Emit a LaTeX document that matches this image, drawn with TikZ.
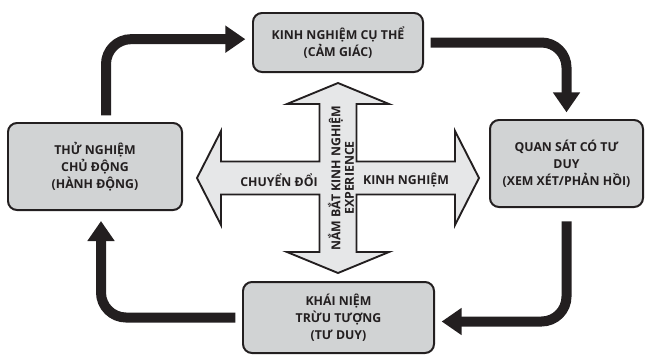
\documentclass[tikz,border=0pt]{standalone}
\usepackage{fontspec}
\setmainfont{Open Sans}
\usepackage{tikz}
\usetikzlibrary{arrows.meta,calc,positioning}
\definecolor{ink}{HTML}{231F20}
\definecolor{boxgray}{HTML}{D1D3D4}
\definecolor{crossgray}{HTML}{E6E7E8}

\begin{document}
\begin{tikzpicture}[x=0.03cm,y=-0.03cm,>={Triangle[length=0.6cm,width=0.78cm]}]
	\tikzstyle{block} = [draw=ink, fill=boxgray, line width=1.7pt, rounded corners=0.27cm, align=center, text=ink, font=\fontsize{10.5}{14.5}\selectfont\bfseries]
	\tikzstyle{flow} = [->, draw=ink, line width=0.3cm, rounded corners=0.75cm, shorten <=0.2cm, shorten >=0.2cm]
	\tikzstyle{lbl} = [text=ink, align=center, font=\fontsize{10.5}{11.5}\selectfont\bfseries]
	\useasboundingbox (0,0) rectangle (648,355);

	\node [block, minimum width=5.1cm, minimum height=1.77cm] at (338,42.5) (concrete) {KINH NGHIỆM CỤ THỂ\\(CẢM GIÁC)};
	\node [block, minimum width=4.59cm, minimum height=2.61cm] at (566.5,163.5) (reflect) {QUAN SÁT CÓ TƯ\\DUY\\(XEM XÉT/PHẢN HỒI)};
	\node [block, minimum width=5.73cm, minimum height=2.13cm] at (338.5,317.5) (abstract) {KHÁI NIỆM\\TRỪU TƯỢNG\\(TƯ DUY)};
	\node [block, minimum width=5.22cm, minimum height=2.61cm] at (95,166.5) (active) {THỬ NGHIỆM\\CHỦ ĐỘNG\\(HÀNH ĐỘNG)};

	\coordinate (mid) at (338,178);
	\draw [draw=ink, fill=crossgray, line width=1.6pt, line join=miter]
		($(mid)+(0,-95)$) -- ++(51,21) -- ++(-32.5,0) -- ++(0,57.5) -- ++(98.5,0) -- ++(0,-30.5)
		-- ++(24,47) -- ++(-24,47) -- ++(0,-30.5) -- ++(-98.5,0) -- ++(0,57.5) -- ++(32.5,0)
		-- ++(-51,21) -- ++(-51,-21) -- ++(32.5,0) -- ++(0,-57.5) -- ++(-98.5,0) -- ++(0,30.5)
		-- ++(-24,-47) -- ++(24,-47) -- ++(0,30.5) -- ++(98.5,0) -- ++(0,-57.5) -- ++(-32.5,0) -- cycle;

	\node [lbl] at (279,180) (convert) {CHUYỂN ĐỔI};
	\node [lbl] at (406,180) (exper) {KINH NGHIỆM};
	\node [lbl, rotate=90] at (341,178) (grasp) {NẮM BẮT KINH NGHIỆM\\EXPERIENCE};

	\draw [flow] ([xshift=0.33cm]active.north) |- ([yshift=0.1cm]concrete.west);
	\draw [flow] (concrete.east) -| (reflect.north);
	\draw [flow, shorten <=0.4cm] (reflect.south) |- ([yshift=-0.12cm]abstract.east);
	\draw [flow, shorten >=0.3cm] (abstract.west) -| ([xshift=0.18cm]active.south);

\end{tikzpicture}
\end{document}
